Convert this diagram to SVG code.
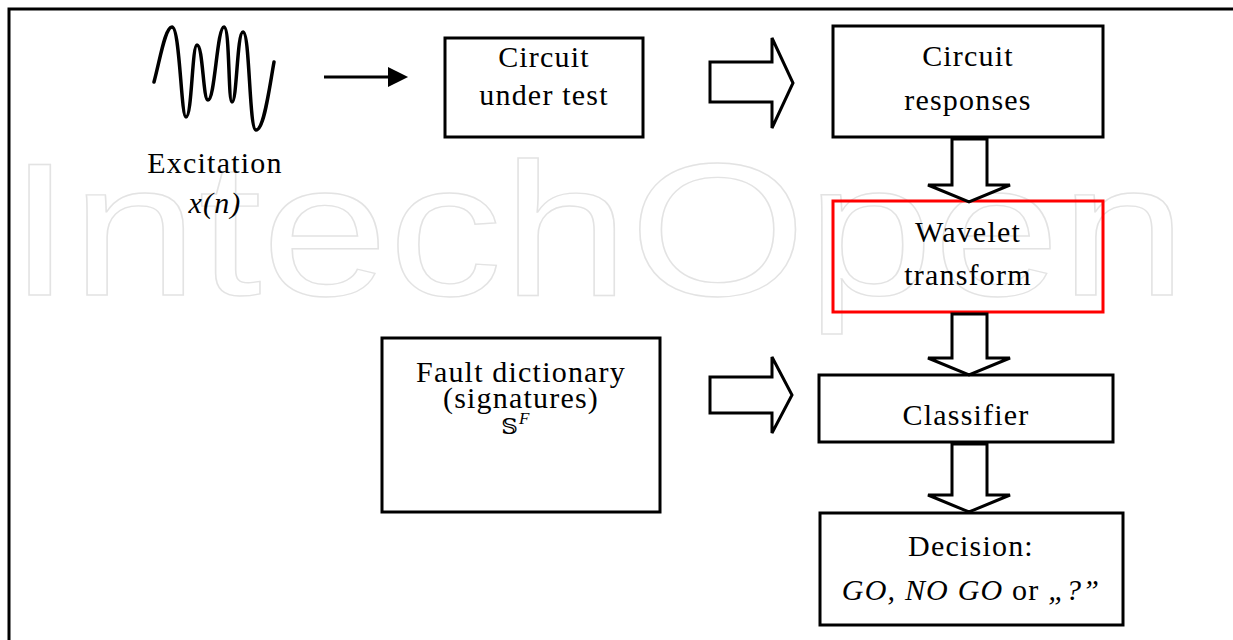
<svg xmlns="http://www.w3.org/2000/svg" width="1233" height="640" viewBox="0 0 1233 640">
<style>
.box{fill:none;stroke:#000;stroke-width:3}
.red{fill:none;stroke:#ff0000;stroke-width:3}
.blk{fill:#fff;stroke:#000;stroke-width:3;stroke-linejoin:miter}
.t{font-family:"Liberation Serif","DejaVu Serif",serif;font-size:30px;letter-spacing:1.2px;fill:#000;text-anchor:middle}
.i{font-style:italic}
.wm{font-family:"Liberation Sans","DejaVu Sans",sans-serif;font-size:190px;fill:none;stroke:#e3e3e3;stroke-width:1.3}
</style>
<defs>
<marker id="ah" markerWidth="8" markerHeight="8" refX="0" refY="4" orient="auto" markerUnits="strokeWidth">
<path d="M0,0.7 L6.7,4 L0,7.3 Z" fill="#000"/>
</marker>
</defs>
<rect width="1233" height="640" fill="#fff"/>
<text class="wm" transform="translate(8,295) scale(1.2,1)">IntechOpen</text>
<path d="M9,660 V9 H1250" fill="none" stroke="#000" stroke-width="3"/>

<g id="excitation">
<path d="M154,82 C160,60 165,27 172,27 C180,27 181,117 186,117 C192,117 192,45 197,45 C203,45 203,100 208,100 C215,100 217,27 224,27 C230,27 228,102 232,102 C237,102 237,32 243,32 C250,32 249,130 256,130 C264,130 269,90 274,62" fill="none" stroke="#000" stroke-width="3.5" stroke-linecap="round" stroke-linejoin="round"/>
<text class="t" x="215" y="173">Excitation</text>
<text class="t i" x="215" y="213">x(n)</text>
</g>

<g id="cut">
<rect class="box" x="445" y="38" width="198" height="99"/>
<text class="t" x="544" y="67">Circuit</text>
<text class="t" x="544" y="105">under test</text>
</g>

<g id="responses">
<rect class="box" x="833" y="26" width="270" height="111"/>
<text class="t" x="968" y="66">Circuit</text>
<text class="t" x="968" y="110">responses</text>
</g>

<g id="wavelet">
<rect class="red" x="833" y="201" width="270" height="111"/>
<text class="t" x="968" y="242">Wavelet</text>
<text class="t" x="968" y="285">transform</text>
</g>

<g id="fault">
<rect class="box" x="382" y="338" width="278" height="174"/>
<text class="t" x="521" y="382">Fault dictionary</text>
<text class="t" x="521" y="408">(signatures)</text>
<text class="t" x="516" y="434"><tspan font-family="DejaVu Serif, DejaVu Sans, serif" font-size="23">𝕊</tspan><tspan class="i" font-size="17" dy="-10">F</tspan></text>
</g>

<g id="classifier">
<rect class="box" x="819" y="375" width="294" height="67"/>
<text class="t" x="966" y="425">Classifier</text>
</g>

<g id="decision">
<rect class="box" x="820" y="513" width="303" height="112"/>
<text class="t" x="971" y="556">Decision:</text>
<text class="t" x="971" y="600" letter-spacing="0.6"><tspan class="i">GO, NO GO</tspan> or <tspan class="i">„?”</tspan></text>
</g>

<g id="connectors">
<line x1="324" y1="77" x2="388" y2="77" stroke="#000" stroke-width="3" marker-end="url(#ah)"/>
<polygon class="blk" points="710,62 772,62 772,38 793,83 772,128 772,102 710,102"/>
<polygon class="blk" points="710,377 772,377 772,357 792,395 772,433 772,413 710,413"/>
<polygon class="blk" points="952,139 952,185 928,185 969,202 1010,185 987,185 987,139"/>
<polygon class="blk" points="952,314 952,358 928,358 969,375 1010,358 987,358 987,314"/>
<polygon class="blk" points="952,444 952,495 928,495 969,512 1010,495 987,495 987,444"/>
</g>
</svg>
